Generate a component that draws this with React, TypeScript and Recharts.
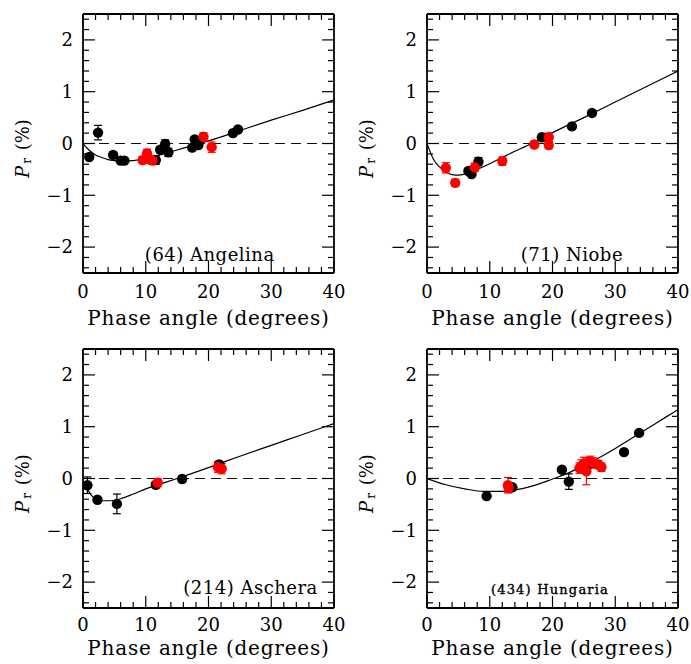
import React from "react";
import {
  ComposedChart,
  Scatter,
  Line,
  XAxis,
  YAxis,
  ReferenceLine,
  ReferenceDot,
  ErrorBar,
} from "recharts";

// (64) Angelina
const angelinaBlack = [
  { phase: 1.0, pr: -0.26, err: 0.05 },
  { phase: 2.4, pr: 0.21, err: 0.14 },
  { phase: 4.8, pr: -0.22, err: 0.06 },
  { phase: 6.0, pr: -0.33, err: 0.04 },
  { phase: 6.6, pr: -0.33, err: 0.04 },
  { phase: 11.6, pr: -0.32, err: 0.08 },
  { phase: 12.3, pr: -0.12, err: 0.05 },
  { phase: 13.1, pr: -0.01, err: 0.08 },
  { phase: 13.6, pr: -0.17, err: 0.08 },
  { phase: 17.4, pr: -0.08, err: 0.04 },
  { phase: 17.8, pr: 0.08, err: 0.05 },
  { phase: 18.4, pr: -0.03, err: 0.04 },
  { phase: 23.9, pr: 0.2, err: 0.04 },
  { phase: 24.7, pr: 0.27, err: 0.04 },
];
const angelinaRed = [
  { phase: 9.5, pr: -0.32, err: 0.07 },
  { phase: 10.2, pr: -0.19, err: 0.08 },
  { phase: 10.7, pr: -0.31, err: 0.07 },
  { phase: 11.1, pr: -0.33, err: 0.07 },
  { phase: 19.2, pr: 0.13, err: 0.08 },
  { phase: 20.5, pr: -0.07, err: 0.1 },
];
const angelinaFit = [
  { phase: 0, pr: 0 }, { phase: 1, pr: -0.13 }, { phase: 2, pr: -0.22 },
  { phase: 3, pr: -0.27 }, { phase: 4, pr: -0.31 }, { phase: 5, pr: -0.33 },
  { phase: 6, pr: -0.34 }, { phase: 7, pr: -0.34 }, { phase: 8, pr: -0.33 },
  { phase: 10, pr: -0.29 }, { phase: 12, pr: -0.23 }, { phase: 14, pr: -0.16 },
  { phase: 16, pr: -0.09 }, { phase: 18, pr: -0.02 }, { phase: 20, pr: 0.05 },
  { phase: 25, pr: 0.25 }, { phase: 30, pr: 0.45 }, { phase: 35, pr: 0.64 },
  { phase: 40, pr: 0.84 },
];

// (71) Niobe
const niobeBlack = [
  { phase: 6.6, pr: -0.53, err: 0.05 },
  { phase: 7.1, pr: -0.59, err: 0.05 },
  { phase: 8.2, pr: -0.35, err: 0.08 },
  { phase: 18.3, pr: 0.12, err: 0.04 },
  { phase: 23.1, pr: 0.33, err: 0.05 },
  { phase: 26.3, pr: 0.59, err: 0.04 },
];
const niobeRed = [
  { phase: 3.0, pr: -0.47, err: 0.1 },
  { phase: 4.5, pr: -0.76, err: 0.07 },
  { phase: 7.6, pr: -0.46, err: 0.08 },
  { phase: 12.0, pr: -0.34, err: 0.08 },
  { phase: 17.1, pr: -0.02, err: 0.06 },
  { phase: 19.4, pr: 0.12, err: 0.08 },
  { phase: 19.4, pr: -0.03, err: 0.07 },
];
const niobeFit = [
  { phase: 0, pr: 0 }, { phase: 0.5, pr: -0.16 }, { phase: 1, pr: -0.3 },
  { phase: 2, pr: -0.45 }, { phase: 3, pr: -0.55 }, { phase: 4, pr: -0.6 },
  { phase: 5, pr: -0.61 }, { phase: 6, pr: -0.59 }, { phase: 7, pr: -0.55 },
  { phase: 8, pr: -0.5 }, { phase: 10, pr: -0.39 }, { phase: 12, pr: -0.27 },
  { phase: 14, pr: -0.15 }, { phase: 16, pr: -0.04 }, { phase: 18, pr: 0.09 },
  { phase: 20, pr: 0.21 }, { phase: 25, pr: 0.5 }, { phase: 30, pr: 0.8 },
  { phase: 35, pr: 1.1 }, { phase: 40, pr: 1.4 },
];

// (214) Aschera
const ascheraBlack = [
  { phase: 0.7, pr: -0.13, err: 0.16 },
  { phase: 2.3, pr: -0.41, err: 0.04 },
  { phase: 5.4, pr: -0.49, err: 0.19 },
  { phase: 11.6, pr: -0.12, err: 0.06 },
  { phase: 15.8, pr: -0.01, err: 0.06 },
  { phase: 21.7, pr: 0.27, err: 0.06 },
];
const ascheraRed = [
  { phase: 11.9, pr: -0.08, err: 0.08 },
  { phase: 21.5, pr: 0.22, err: 0.1 },
  { phase: 22.1, pr: 0.19, err: 0.1 },
];
const ascheraFit = [
  { phase: 0.7, pr: -0.2 }, { phase: 1.2, pr: -0.3 }, { phase: 1.7, pr: -0.37 },
  { phase: 2.3, pr: -0.41 }, { phase: 3, pr: -0.43 }, { phase: 4, pr: -0.43 },
  { phase: 5, pr: -0.42 }, { phase: 6, pr: -0.39 }, { phase: 8, pr: -0.3 },
  { phase: 10, pr: -0.2 }, { phase: 12, pr: -0.12 }, { phase: 15, pr: 0.0 },
  { phase: 20, pr: 0.21 }, { phase: 25, pr: 0.43 }, { phase: 30, pr: 0.64 },
  { phase: 35, pr: 0.85 }, { phase: 40, pr: 1.06 },
];

// (434) Hungaria
const hungariaBlack = [
  { phase: 9.5, pr: -0.34, err: 0.04 },
  { phase: 13.6, pr: -0.17, err: 0.04 },
  { phase: 21.5, pr: 0.17, err: 0.06 },
  { phase: 22.6, pr: -0.06, err: 0.15 },
  { phase: 25.7, pr: 0.27, err: 0.05 },
  { phase: 31.4, pr: 0.51, err: 0.05 },
  { phase: 33.8, pr: 0.88, err: 0.04 },
];
const hungariaRed = [
  { phase: 12.9, pr: -0.13, err: 0.15 },
  { phase: 13.0, pr: -0.18, err: 0.08 },
  { phase: 24.3, pr: 0.2, err: 0.1 },
  { phase: 24.6, pr: 0.24, err: 0.12 },
  { phase: 25.0, pr: 0.29, err: 0.12 },
  { phase: 25.4, pr: 0.14, err: 0.26 },
  { phase: 26.0, pr: 0.33, err: 0.1 },
  { phase: 26.5, pr: 0.3, err: 0.1 },
  { phase: 27.3, pr: 0.27, err: 0.08 },
  { phase: 27.8, pr: 0.22, err: 0.08 },
];
const hungariaFit = [
  { phase: 0, pr: 0 }, { phase: 3, pr: -0.12 }, { phase: 6, pr: -0.2 },
  { phase: 9, pr: -0.25 }, { phase: 12, pr: -0.25 }, { phase: 14, pr: -0.22 },
  { phase: 16, pr: -0.17 }, { phase: 18, pr: -0.1 }, { phase: 20, pr: -0.01 },
  { phase: 22, pr: 0.08 }, { phase: 24, pr: 0.19 }, { phase: 26, pr: 0.31 },
  { phase: 28, pr: 0.44 }, { phase: 30, pr: 0.58 }, { phase: 32, pr: 0.73 },
  { phase: 34, pr: 0.88 }, { phase: 36, pr: 1.03 }, { phase: 38, pr: 1.18 },
  { phase: 40, pr: 1.33 },
];

const xTicks = [0, 10, 20, 30, 40];
const yTicks = [-2, -1, 0, 1, 2];

const FONT = "DejaVu Serif";
const PLOT_W = 251;
const PLOT_H = 259;
const X_PER_PX = 40 / PLOT_W;
const Y_PER_PX = 5 / PLOT_H;

const xMinor = Array.from({ length: 21 }, (_, i) => i * 2);
const yMinor = Array.from({ length: 25 }, (_, i) => Math.round((-2.4 + i * 0.2) * 10) / 10);

function frameTicks() {
  const out: React.ReactNode[] = [];
  xMinor.forEach((v) => {
    const len = (v % 10 === 0 ? 12 : 6) * Y_PER_PX;
    out.push(
      <ReferenceLine key={`xb${v}`} segment={[{ x: v, y: -2.5 }, { x: v, y: -2.5 + len }]} stroke="#000" strokeWidth={1.2} />,
      <ReferenceLine key={`xt${v}`} segment={[{ x: v, y: 2.5 }, { x: v, y: 2.5 - len }]} stroke="#000" strokeWidth={1.2} />
    );
  });
  yMinor.forEach((v) => {
    const len = (Number.isInteger(v) ? 12 : 6) * X_PER_PX;
    out.push(
      <ReferenceLine key={`yl${v}`} segment={[{ x: 0, y: v }, { x: len, y: v }]} stroke="#000" strokeWidth={1.2} />,
      <ReferenceLine key={`yr${v}`} segment={[{ x: 40, y: v }, { x: 40 - len, y: v }]} stroke="#000" strokeWidth={1.2} />
    );
  });
  return out;
}

function XTitle({ viewBox, below }: any) {
  const { x, y, width } = viewBox;
  return (
    <text x={x + width / 2} y={y + below} textAnchor="middle" fontFamily={FONT} fontSize={20} letterSpacing={0.8} fill="#000">
      Phase angle (degrees)
    </text>
  );
}

function YTitle({ viewBox }: any) {
  const cx = viewBox.x + 19;
  const cy = viewBox.y + viewBox.height / 2 + 5;
  return (
    <text x={cx} y={cy} transform={`rotate(-90 ${cx} ${cy})`} textAnchor="middle" dominantBaseline="central" fontFamily={FONT} fontSize={18} fill="#000">
      <tspan fontStyle="italic">P</tspan>
      <tspan fontSize={12} dx={2} dy={5}>r</tspan>
      <tspan dx={2} dy={-5}>{" (%)"}</tspan>
    </text>
  );
}

function NameTag({ viewBox, text, small }: any) {
  const cx = viewBox.x + viewBox.width / 2;
  const cy = viewBox.y + viewBox.height / 2;
  return (
    <text x={cx} y={cy} textAnchor="middle" dominantBaseline="central" fontFamily={FONT}
      fontSize={small ? 13 : 18} letterSpacing={small ? 1.2 : 0.5}
      stroke={small ? "#000" : "none"} strokeWidth={small ? 0.4 : 0} fill="#000">
      {text}
    </text>
  );
}

const dot = (color: string) => (p: any) => <circle cx={p.cx} cy={p.cy} r={5.2} fill={color} />;

const minus = (v: number) => (v < 0 ? `\u2212${Math.abs(v)}` : `${v}`);

function Panel({ left, top, below, tickGap, black, red, fit, name, nameX, nameY, small }: any) {
  return (
    <div style={{ position: "absolute", left, top }}>
      <ComposedChart width={344} height={329} margin={{ top: 14, right: 13, bottom: 0, left: 0 }}>
        <XAxis
          dataKey="phase"
          type="number"
          domain={[0, 40]}
          ticks={xTicks}
          allowDataOverflow
          height={56}
          axisLine={false}
          tickLine={false}
          tickSize={0}
          tickMargin={tickGap}
          tick={{ fill: "#000", fontSize: 18, fontFamily: FONT }}
          label={<XTitle below={below} />}
        />
        <YAxis
          dataKey="pr"
          type="number"
          domain={[-2.5, 2.5]}
          ticks={yTicks}
          allowDataOverflow
          width={80}
          axisLine={false}
          tickLine={false}
          tickSize={0}
          tickMargin={10}
          tickFormatter={minus}
          tick={{ fill: "#000", fontSize: 18, fontFamily: FONT }}
          label={<YTitle />}
        />
        <ReferenceLine y={0} stroke="#111" strokeWidth={1.2} strokeDasharray="10 6" />
        <Line data={fit} dataKey="pr" type="monotone" dot={false} stroke="#000" strokeWidth={1.2} isAnimationActive={false} />
        <Scatter data={black} dataKey="pr" shape={dot("#000")} isAnimationActive={false}>
          <ErrorBar dataKey="err" direction="y" width={4} stroke="#000" strokeWidth={1.2} />
        </Scatter>
        <Scatter data={red} dataKey="pr" shape={dot("#ff0000")} isAnimationActive={false}>
          <ErrorBar dataKey="err" direction="y" width={4} stroke="#ff0000" strokeWidth={1.2} />
        </Scatter>
        <ReferenceDot x={nameX} y={nameY} r={1} fill="none" stroke="none" label={<NameTag text={name} small={small} />} />
        <ReferenceLine x={0} stroke="#000" strokeWidth={1.8} />
        <ReferenceLine x={40} stroke="#000" strokeWidth={1.8} />
        <ReferenceLine y={-2.5} stroke="#000" strokeWidth={1.8} />
        <ReferenceLine y={2.5} stroke="#000" strokeWidth={1.8} />
        {frameTicks()}
      </ComposedChart>
    </div>
  );
}

export default function App() {
  return (
    <div style={{ position: "absolute", left: 0, top: 0, width: 691, height: 664, overflow: "hidden", background: "#fff" }}>
      <Panel left={3} top={0} below={52} tickGap={12} black={angelinaBlack} red={angelinaRed} fit={angelinaFit} name="(64) Angelina" nameX={20.2} nameY={-2.15} />
      <Panel left={347} top={0} below={52} tickGap={12} black={niobeBlack} red={niobeRed} fit={niobeFit} name="(71) Niobe" nameX={23.1} nameY={-2.15} />
      <Panel left={3} top={335} below={47} tickGap={10} black={ascheraBlack} red={ascheraRed} fit={ascheraFit} name="(214) Aschera" nameX={26.7} nameY={-2.11} />
      <Panel left={347} top={335} below={47} tickGap={10} black={hungariaBlack} red={hungariaRed} fit={hungariaFit} name="(434) Hungaria" nameX={19.6} nameY={-2.15} small />
    </div>
  );
}
